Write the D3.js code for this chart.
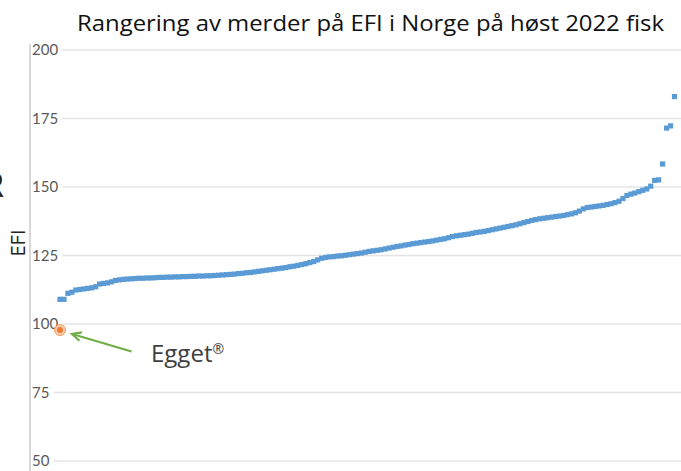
<!DOCTYPE html>
<html>
<head>
<meta charset="utf-8">
<script src="https://cdn.jsdelivr.net/npm/d3@7"></script>
<style>
  html, body { margin: 0; padding: 0; background: #ffffff; }
  svg { display: block; }
</style>
</head>
<body>
<div id="chart"></div>
<script>
// ---- data ----
const titleText = "Rangering av merder på EFI i Norge på høst 2022 fisk";
const yTicks = [50, 75, 100, 125, 150, 175, 200];
const yLabel = "EFI";
const eggetName = "Egget";
const eggetMark = "®";
const eggetValue = 97.8;
const efiValues = [
  109.0, 109.0, 111.2, 111.6, 112.4, 112.6, 112.8, 113.0, 113.2, 113.6,
  114.6, 114.8, 115.0, 115.4, 115.9, 116.1, 116.3, 116.4, 116.5, 116.6,
  116.7, 116.7, 116.8, 116.8, 116.9, 117.0, 117.0, 117.1, 117.1, 117.2,
  117.2, 117.3, 117.3, 117.4, 117.4, 117.5, 117.5, 117.6, 117.6, 117.7,
  117.8, 117.9, 118.0, 118.1, 118.2, 118.4, 118.5, 118.7, 118.8, 119.0,
  119.2, 119.4, 119.6, 119.8, 120.0, 120.2, 120.4, 120.6, 120.9, 121.1,
  121.4, 121.7, 122.0, 122.4, 122.8, 123.4, 124.0, 124.3, 124.5, 124.6,
  124.8, 124.9, 125.1, 125.3, 125.5, 125.7, 125.9, 126.2, 126.5, 126.7,
  126.9, 127.1, 127.4, 127.7, 128.0, 128.3, 128.5, 128.8, 129.0, 129.3,
  129.5, 129.7, 129.9, 130.1, 130.3, 130.6, 130.9, 131.1, 131.5, 131.9,
  132.2, 132.4, 132.6, 132.8, 133.1, 133.4, 133.6, 133.8, 134.1, 134.4,
  134.7, 135.0, 135.3, 135.6, 135.9, 136.2, 136.6, 137.0, 137.4, 137.8,
  138.1, 138.4, 138.6, 138.8, 139.0, 139.2, 139.4, 139.6, 139.9, 140.2,
  140.6, 141.2, 142.0, 142.5, 142.7, 142.9, 143.1, 143.3, 143.6, 143.9,
  144.3, 144.8, 145.8, 146.9, 147.4, 147.8, 148.3, 148.8, 149.3, 150.3,
  152.4, 152.6, 158.4, 171.5, 172.3, 183.0
];

// ---- layout ----
const W = 681, H = 471;
const svg = d3.select("#chart").append("svg")
  .attr("width", W).attr("height", H)
  .style("font-family", "'Open Sans', Lato, sans-serif");

const y = d3.scaleLinear().domain([50, 200]).range([461, 50]);
const x = d3.scaleLinear().domain([0, efiValues.length - 1]).range([60, 674.5]);

// partially visible text at the left edge (cut off in the original too)
svg.append("text")
  .attr("x", 4).attr("y", 197)
  .attr("text-anchor", "end")
  .attr("font-size", 32)
  .attr("fill", "#222")
  .text("R");

// vertical axis line
svg.append("line")
  .attr("x1", 30).attr("x2", 30)
  .attr("y1", 44).attr("y2", H)
  .attr("stroke", "#d9d9d9").attr("stroke-width", 2);

// gridlines + tick labels
const tickG = svg.append("g");
yTicks.forEach(t => {
  const lbl = tickG.append("text")
    .attr("x", 32).attr("y", y(t))
    .attr("dy", "0.36em")
    .attr("font-family", "Lato, sans-serif")
    .attr("font-size", 15)
    .attr("fill", "#595959")
    .text(t);
  const bb = lbl.node().getBBox();
  tickG.insert("line", "text")
    .attr("x1", bb.x + bb.width + 4).attr("x2", W)
    .attr("y1", y(t)).attr("y2", y(t))
    .attr("stroke", "#e4e4e4").attr("stroke-width", 1.5);
});

// y axis title
svg.append("text")
  .attr("transform", `translate(25,243) rotate(-90)`)
  .attr("text-anchor", "middle")
  .attr("font-size", 20)
  .attr("fill", "#222")
  .text(yLabel);

// title
svg.append("text")
  .attr("x", 77).attr("y", 31)
  .attr("font-size", 21.5)
  .attr("textLength", 587)
  .attr("lengthAdjust", "spacingAndGlyphs")
  .attr("fill", "#111")
  .text(titleText);

// series markers
svg.append("g").selectAll("rect")
  .data(efiValues)
  .join("rect")
  .attr("x", (d, i) => x(i) - 2.6)
  .attr("y", d => y(d) - 2.6)
  .attr("width", 5.2).attr("height", 5.2)
  .attr("fill", "#5b9bd5");

// Egget point
svg.append("circle")
  .attr("cx", x(0)).attr("cy", y(eggetValue))
  .attr("r", 5.5)
  .attr("fill", "#f8cbad").attr("stroke", "#f0a060").attr("stroke-width", 1);
svg.append("circle")
  .attr("cx", x(0)).attr("cy", y(eggetValue))
  .attr("r", 3)
  .attr("fill", "#ed7d31");

// arrow
const ax1 = 131.5, ay1 = 351.5, ax2 = 72, ay2 = 334;
svg.append("line")
  .attr("x1", ax1).attr("y1", ay1).attr("x2", ax2 + 1).attr("y2", ay2 + 0.3)
  .attr("stroke", "#70ad47").attr("stroke-width", 2.2);
const ang = Math.atan2(ay1 - ay2, ax1 - ax2);
const hl = 10, ha = 0.45;
svg.append("path")
  .attr("d", `M${ax2 + hl * Math.cos(ang - ha)},${ay2 + hl * Math.sin(ang - ha)} L${ax2},${ay2} L${ax2 + hl * Math.cos(ang + ha)},${ay2 + hl * Math.sin(ang + ha)}`)
  .attr("fill", "none")
  .attr("stroke", "#70ad47").attr("stroke-width", 2.2)
  .attr("stroke-linejoin", "miter");

// Egget label
const eg = svg.append("text")
  .attr("x", 151).attr("y", 362)
  .attr("font-size", 24)
  .attr("fill", "#404040");
eg.append("tspan").text(eggetName);
eg.append("tspan").attr("font-size", 14).attr("dy", -8).text(eggetMark);
</script>
</body>
</html>
